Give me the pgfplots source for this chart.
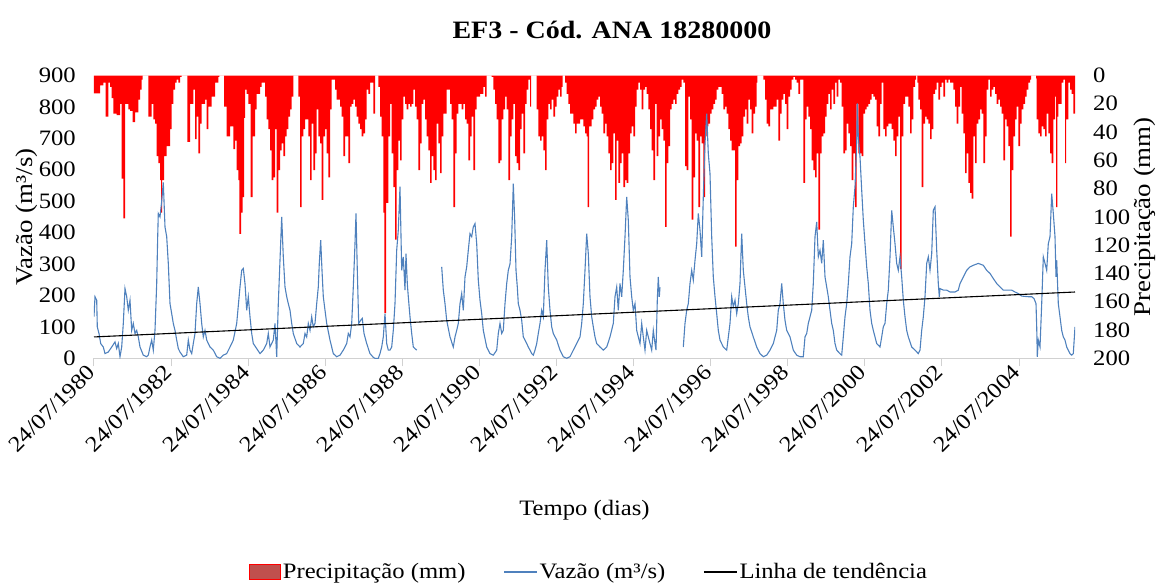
\documentclass[border=0pt]{standalone}
\usepackage{fontspec}
\setmainfont{Liberation Serif}[FakeStretch=1.12]
\usepackage{pgfplots}
\usepackage{pgfplotstable}
\pgfplotsset{compat=1.18}
\definecolor{flowblue}{RGB}{79,129,189}
\definecolor{legred}{RGB}{192,80,77}

\pgfplotstableread{
u v
0 133
1 196
2.7 185
3.3 100
5 79
6.7 47
9.3 36
11 15
14.3 20
17.7 36
21 52
22.7 31
24.3 47
26 5
27.7 36
29.3 111
31 222
32.7 196
34.3 153
36 185
37.7 89
39.3 111
41 79
42.7 89
44.3 68
46 36
49.3 10
52.7 5
54.3 10
56 36
57.7 58
59.3 26
61 89
62.7 238
63.7 387
64.3 461
66 450
67.7 500
69.3 560
71 418
72.7 387
74.3 302
76 174
77.7 142
79.3 111
81 89
82.7 58
84.3 31
86 20
89.3 5
92.7 10
94.3 58
96 26
97.7 15
99.3 47
101 79
102.7 174
104.3 227
106 174
107.7 111
109.3 68
111 89
112.7 58
116 36
119.3 26
122.7 5
126 0
129.3 10
132.7 15
136 36
139.3 58
142.7 111
146 227
147.7 280
149.3 286
151 238
152.7 153
154.3 196
156 132
157.7 79
159.3 47
162.7 31
166 15
169.3 26
172.7 47
174.3 79
176 36
179.3 58
181 111
182.7 5
184.3 174
186 312
187.7 450
189.3 323
191 227
192.7 196
194.3 174
196 153
197.7 111
199.3 79
202.7 47
206 36
209.3 47
211 79
212.7 68
214.3 111
216 89
217.7 132
219.3 100
221 111
222.7 174
224.3 227
225.3 302
226.7 376
228 280
229.3 196
231 153
232.7 111
236 58
239.3 15
242.7 5
246 10
249.3 26
252.7 47
254.3 79
256 68
257.7 111
259.3 227
261 365
262 461
263.3 280
264.7 111
266.7 121
268.3 127
270 79
272.7 47
276 15
279.3 3
281 0
284.3 0
286 15
287.7 36
289.3 68
291 142
292.7 47
294.3 26
296 26
297.7 36
299.3 89
301 174
302.7 344
304.3 408
306 546
307.7 280
309.3 323
311 217
312 333
313.3 238
314.3 196
316 132
317.7 79
319.3 36
321 31
322.7 26
335 nan
347.7 291
349.3 217
351 174
352.7 121
356 68
359.3 36
361 68
362.7 89
364.3 111
366 174
367.7 206
369.3 153
371 259
372.7 291
374.3 344
376 397
377.7 387
379.3 418
381 429
382.7 365
384.3 249
386 185
387.7 142
389.3 89
392.7 36
396 15
399.3 10
402.7 26
404.3 79
406 111
407.7 79
409.3 89
411 174
412.7 238
414.3 280
416 300
417.7 387
419.3 556
420.7 440
422 280
423.3 227
424.3 174
426 153
427.7 121
429.3 68
431 58
432.7 47
434.3 36
436 26
437.7 15
439.3 10
441 26
442.7 47
444.3 79
446 111
447.7 153
449.3 132
451 280
452.7 376
454.3 227
456 153
457.7 100
459.3 79
462.7 58
466 26
469.3 5
472.7 0
476 5
479.3 26
482.7 47
486 68
487.7 111
489.3 174
491 280
492.7 397
494.3 333
496 196
497.7 132
499.3 100
501 68
502.7 47
506 36
509.3 26
512.7 36
516 68
519.3 111
521 196
522.7 227
524.3 153
526 238
527.7 196
529.3 280
531 387
532.7 514
534.3 440
536 259
537.7 196
539.3 153
541 174
542.7 89
544.3 68
546 47
547.7 111
549.3 68
551 26
552.7 89
554.3 68
556 47
557.7 26
559.3 89
561 47
562 26
563.3 185
564.3 259
565.3 196
566 226
578 nan
589.3 36
591 111
592.7 153
594.3 174
596 238
597.7 280
599.3 249
601 312
602.7 365
604.3 461
606 408
607.7 323
609.3 514
611 684
612.7 779
614.3 652
616 588
617.7 387
619.3 259
621 196
622.7 142
624.3 89
626 58
629.3 36
632.7 26
636 111
637.7 196
639.3 164
641 185
642.7 142
644.3 174
646 238
647.7 397
649.3 280
651 227
652.7 174
654.3 132
656 100
659.3 68
662.7 36
666 15
669.3 5
672.7 10
676 26
679.3 47
682.7 89
684.3 153
686 174
687.7 238
689.3 174
691 121
692.7 89
696 68
699.3 26
702.7 10
706 5
709.3 5
711 68
712.7 79
714.3 111
716 132
717.7 153
719.3 238
721 387
722.7 434
724.3 323
726 344
727.7 302
729.3 376
731 259
732.7 227
734.3 196
736 153
737.7 111
739.3 89
741 47
742.7 26
746 15
747.7 10
749.3 68
751 132
752.7 174
754.3 238
756 323
757.7 365
759.3 482
761 546
762.7 684
763.3 811
764.3 705
766 641
767.7 535
769.3 440
771 365
772.7 291
774.3 238
776 153
777.7 111
779.3 89
782.7 47
786 36
787.7 68
789.3 100
791 111
792.7 174
794.3 217
796 323
797.7 471
799.3 418
801 365
802.7 302
804.3 280
806 323
807.7 259
809.3 185
811 132
812.7 89
814.3 68
817.7 36
821 26
824.3 15
826 26
827.7 89
829.3 132
831 196
832.7 302
834.3 323
836 280
837.7 333
839.3 471
841 482
842.7 344
844.3 238
845.3 196
846 222
849.3 217
852.7 217
856 211
861 211
864.3 217
866 238
869.3 259
872.7 280
876 291
879.3 296
884.3 302
889.3 296
892.7 280
896 270
899.3 254
902.7 238
906 227
909.3 217
917.7 217
921 211
924.3 206
927.7 198
934.3 196
937.7 196
940 190
942 174
942.7 100
943.3 5
944.3 58
946 36
947.7 174
949.3 323
951 302
952.7 280
954.3 365
956 387
957.7 524
959.3 461
961 387
962 259
962.7 312
964.3 174
966 132
967.7 89
969.3 68
971 58
972.7 36
976 15
977.7 10
979.3 15
981 100
}\flowdata

\pgfplotstableread{
u p
0 12.6
6 7
9.3 5
11.7 29
14.3 5
16 8
17.7 16
19.3 27
22.7 28
26 20
27.7 73
29.3 101
31 20
34.3 24
36 25
38.7 33
41 26
44.3 17
46 10
47.7 3
48.7 0
54.3 29
57.7 20
59.3 31
61 34
62.7 57
64.3 62
66 74
67 97
68 74
70 57
72.7 50
76 38
77.7 20
79.3 10
81 5
82.7 3
84.3 5
86 1
87.7 0
93.3 47
96 20
99.3 10
101 45
102.7 29
104.3 55
106 34
107.7 20
111 17
112.7 38
114.3 22
117.7 15
121 5
124.3 1
125.3 0
130 22
132.7 43
136 36
139.3 52
141 46
142.7 67
144.3 74
145.3 112
147 97
148.7 86
150 30
151 10
152.7 13
154.3 20
156.7 86
158.7 43
161 24
162.7 13
166 8
167.7 5
169.3 5
171 15
172.7 31
174.3 38
176 53
177.7 74
179.3 72
181 38
182.7 97
184.3 67
186 53
187.7 48
189.3 57
191 43
192.7 38
194.3 29
196 24
197.7 15
199.3 0
204.3 15
206 93
207.7 43
209.3 38
211 31
214.3 43
216 74
217.7 34
219.3 67
221 55
222.7 24
224.3 43
226 48
227.7 88
229.3 43
231 38
232.7 55
234.3 72
236 24
237.7 3
239.3 3
241 10
242.7 17
246 22
247.7 29
249.3 57
251 43
254.3 62
256 22
257.7 20
259.3 17
261 22
262.7 29
264.3 34
266 38
267.7 43
269.3 41
271 31
272.7 10
274.3 13
276 5
279.3 27
281 0
284.3 8
286 29
287.7 43
289.3 97
290.3 168
292 90
294.3 43
296 20
297.7 55
299.3 79
301 116
302.7 67
304.3 46
306 60
307.7 31
309.3 15
311 20
312.7 24
314.3 20
316 22
317.7 20
319.3 10
321 22
322.7 31
324.3 67
326 48
327.7 20
329.3 17
331 31
332.7 43
334.3 53
336 76
337.7 57
339.3 67
341 74
342.7 34
344.3 48
346 69
347.7 43
349.3 27
351 27
352.7 10
354.3 10
356 20
357.7 31
359.3 93
361 55
362.7 27
364.3 20
366 20
367.7 24
369.3 20
371 31
372.7 34
374.3 60
376 43
377.7 29
379.3 67
381 24
382.7 15
386 13
389.3 8
391 15
392.7 0
397.7 1
399.3 10
401 20
402.7 31
404.3 62
406 60
407.7 31
409.3 24
411 15
412.7 24
414.3 74
416 43
417.7 31
419.3 20
421 57
422.7 62
424.3 67
426 38
427.7 27
429.3 55
431 20
432.7 10
434.3 3
436 22
437 0
442.7 24
444.3 43
446 46
447.7 43
449.3 53
451 67
452.7 31
454.3 20
456 24
457.7 17
459.3 29
461 22
462.7 15
464.3 10
466 15
467.7 8
468.7 0
471 5
472.7 13
474.3 20
476 27
477.7 27
479.3 34
481 41
482.7 34
484.3 34
486 31
487.7 31
489.3 36
491 41
492.7 43
493.7 93
495 36
497.7 31
499.3 24
501 22
502.7 17
504.3 15
506 22
507.7 27
509.3 41
511 34
512.7 43
514.3 55
516 67
517.7 62
519.3 41
521 88
522.7 46
524.3 76
526 62
527.7 55
529.3 79
531 74
532.7 76
534.3 55
536 41
537.7 36
539.3 43
541 22
542.7 10
544.3 5
546 10
547.7 24
549.3 10
551 8
552.7 13
554.3 24
556 38
557.7 53
559.3 74
561 20
562.7 57
564.3 43
566 31
567.7 38
569.3 46
571 107
572.7 62
574.3 50
576 24
577.7 20
579.3 17
581 20
582.7 13
584.3 10
586 8
587.7 3
589.3 5
591 64
592.7 67
594.3 15
596 31
597.7 102
599.3 72
601 41
602.7 46
604.3 93
606 43
607.7 48
609.3 86
611 43
612.7 36
614.3 34
616 27
617.7 24
619.3 20
621 17
622.7 10
624.3 8
626 8
627.7 13
629.3 24
631 22
632.7 27
634.3 38
636 46
637.7 53
639.3 53
641 121
642.7 74
644.3 50
646 48
647.7 43
649.3 29
651 24
652.7 34
654.3 17
656 24
657.7 41
659.3 27
661 22
662.7 5
663.3 0
669.3 3
671 17
672.7 34
674.3 36
676 24
679.3 22
682.7 17
684.3 46
686 27
687.7 17
689.3 13
691 20
692.7 38
694.3 15
696 10
697.7 3
699.3 1
701 3
702.7 5
704.3 13
706 3
707.7 3
709.3 76
711 31
712.7 22
714.3 29
716 38
717.7 60
719.3 67
721 72
722.7 55
724.3 109
726 55
727.7 43
729.3 41
731 29
732.7 20
734.3 13
736 24
737.7 10
739.3 20
741 5
742.7 15
744.3 3
746 5
747.7 22
749.3 55
751 53
752.7 34
754.3 41
756 50
757.7 74
759.3 55
761 93
762.7 20
764.3 55
766 55
767.7 57
769.3 27
771 24
772.7 22
774.3 20
776 17
777.7 13
779.3 15
781 17
782.7 36
784.3 43
786 20
787.7 5
789.3 38
791 43
792.7 36
794.3 34
796 34
797.7 38
799.3 46
801 57
802.7 43
804.3 29
806 137
807.7 43
809.3 20
811 15
812.7 15
814.3 22
816 41
817.7 31
819.3 8
821 3
822 0
823.3 5
824.3 17
826 24
827.7 79
829.3 34
831 29
832.7 31
834.3 34
836 45
837.7 38
839.3 13
841 10
842.7 5
844.3 17
846 8
847.7 5
849.3 15
851 3
852.7 5
854.3 3
856 5
857.7 5
859.3 10
861 22
862.7 34
864.3 22
866 8
867.7 27
869.3 41
871 69
872.7 55
874.3 76
876 83
877.7 87
879.3 43
881 62
882.7 34
884.3 31
886 24
887.7 27
889.3 62
891 43
892.7 10
894.3 3
896 15
897.7 10
899.3 8
901 13
902.7 20
904.3 17
906 22
907.7 27
909.3 60
911 31
912.7 36
914.3 50
916 114
917.7 67
919.3 43
921 31
922.7 22
924.3 50
926 34
927.7 24
929.3 20
931 15
932.7 10
934.3 5
936 3
937 0
942 2
942.7 31
944.3 41
946 43
947.7 36
949.3 38
951 43
952.7 27
954.3 41
956 55
957.7 62
959.3 31
961 15
962 93
963.3 29
964.3 20
966 20
967.7 5
969.3 3
971 62
972 31
974.3 5
976 10
977.7 13
979.3 27
981 27
}\precdata

\begin{document}
\begin{tikzpicture}
\path[use as bounding box] (-94pt,-223.7pt) rectangle (1063pt,358.3pt);
% precipitation axis (right, reversed)
\begin{axis}[
  at={(0pt,0pt)}, anchor=south west,
  width=981pt, height=282.8pt, scale only axis,
  xmin=0, xmax=981, ymin=0, ymax=200, y dir=reverse,
  hide x axis,
  axis y line*=right,
  y axis line style={draw=none},
  ytick={0,20,...,200},
  ytick style={draw=none},
  /pgf/number format/assume math mode=true,
  yticklabel style={anchor=west, inner xsep=0pt, xshift=18pt, font=\fontsize{22}{26}\selectfont},
  ylabel={Precipitação (mm)},
  every axis y label/.style={at={(rel axis cs:1.0713,0.5)}, rotate=90, anchor=center},
  ylabel style={font=\fontsize{24}{28}\selectfont},
]
\addplot[const plot mark left, fill=red, draw=none] table[x=u,y=p]{\precdata} \closedcycle;
\end{axis}
% flow axis (left)
\begin{axis}[
  at={(0pt,0pt)}, anchor=south west,
  width=981pt, height=282.8pt, scale only axis,
  xmin=0, xmax=981, ymin=0, ymax=900,
  axis x line*=bottom, axis y line*=left,
  y axis line style={draw=none}, ytick style={draw=none},
  x axis line style={draw=black!18, line width=1pt, -},
  xtick={0,77.08,154.17,231.25,308.33,385.42,462.5,539.58,616.67,693.75,770.83,847.92,925},
  xticklabels={24/07/1980,24/07/1982,24/07/1984,24/07/1986,24/07/1988,24/07/1990,24/07/1992,24/07/1994,24/07/1996,24/07/1998,24/07/2000,24/07/2002,24/07/2004},
  xtick style={draw=black!18, line width=1pt},
  tick align=outside, major tick length=8pt,
  xticklabel style={rotate=45, anchor=east, font=\fontsize{22}{26}\selectfont},
  ytick={0,100,...,900},
  /pgf/number format/assume math mode=true,
  yticklabel style={anchor=east, inner xsep=0pt, xshift=-10pt, font=\fontsize{22}{26}\selectfont},
  ylabel={Vazão (m³/s)},
  every axis y label/.style={at={(rel axis cs:-0.0683,0.5)}, rotate=90, anchor=center},
  ylabel style={font=\fontsize{24}{28}\selectfont},
  xlabel={Tempo (dias)},
  every axis x label/.style={at={(rel axis cs:0.5,-0.5364)}, anchor=center},
  xlabel style={font=\fontsize{22}{26}\selectfont},
  title={EF3 - Cód. ANA 18280000},
  every axis title/.style={at={(rel axis cs:0.528,1.1609)}, anchor=center},
  title style={font=\bfseries\fontsize{25}{30}\selectfont},
  unbounded coords=jump,
  legend columns=3,
  legend style={at={(rel axis cs:0.5045,-0.7557)}, anchor=center, draw=none, fill=none,
    font=\fontsize{22}{26}\selectfont,
    /tikz/every even column/.append style={column sep=36pt}},
  legend image code/.code={\draw[#1] (0pt,0pt) -- (33pt,0pt);},
]
\addlegendimage{legend image code/.code={\draw[fill=legred, draw=red, line width=1pt] (0pt,-7pt) rectangle (31pt,8pt);}}
\addlegendentry{Precipitação (mm)}
\addplot[flowblue, line width=1.1pt] table[x=u,y=v]{\flowdata};
\addlegendentry{Vazão (m³/s)}
\addplot[black, line width=1.1pt] coordinates {(0,68) (981,211)};
\addlegendentry{Linha de tendência}
\end{axis}
\end{tikzpicture}
\end{document}
